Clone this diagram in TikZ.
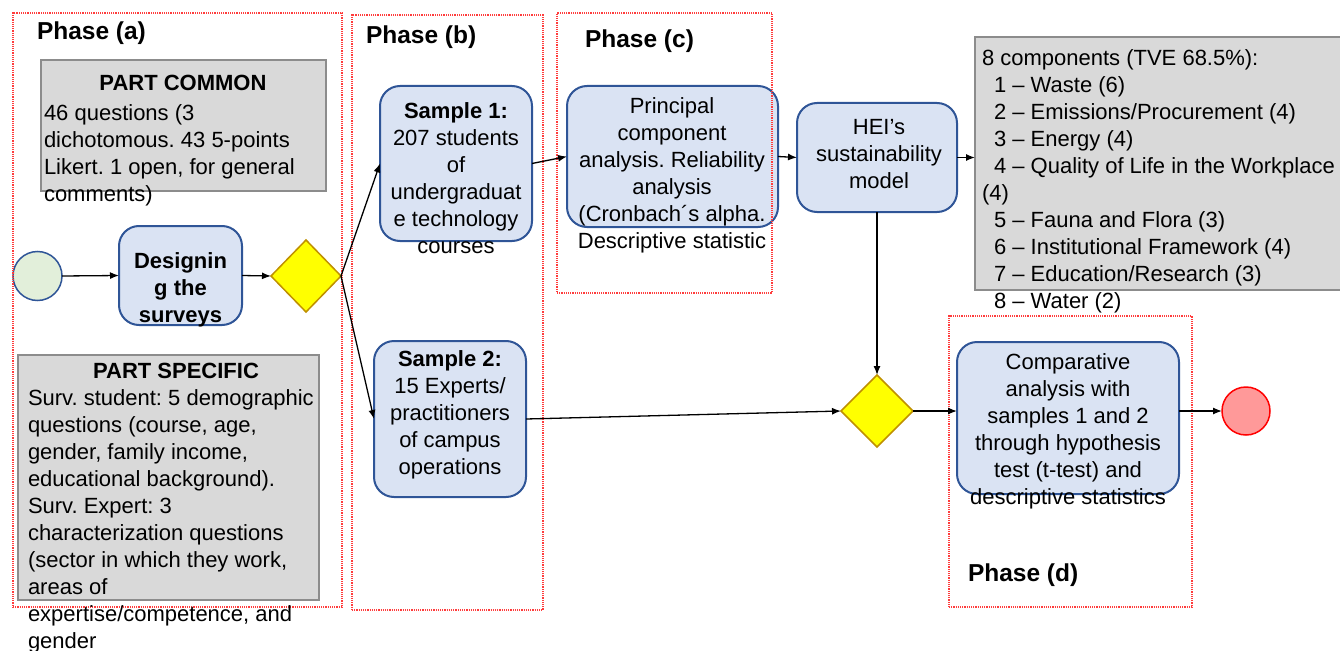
\documentclass[tikz,border=0pt]{standalone}
\usepackage{fontspec}
\setmainfont{Liberation Sans}
\usetikzlibrary{shapes.geometric,arrows.meta}
\definecolor{taskfill}{RGB}{218,227,243}
\definecolor{taskline}{RGB}{47,85,151}
\definecolor{grayfill}{RGB}{217,217,217}
\definecolor{grayline}{RGB}{140,140,140}
\definecolor{gatefill}{RGB}{255,255,0}
\definecolor{gateline}{RGB}{191,144,0}
\definecolor{startfill}{RGB}{226,239,218}
\definecolor{endfill}{RGB}{255,153,153}
\definecolor{phaseline}{RGB}{255,60,60}
\newcommand{\topstr}{\rule{0pt}{16pt}}
\frenchspacing
\begin{document}
\begin{tikzpicture}[x=1pt,y=-1pt,
  every node/.style={inner sep=0pt, outer sep=0pt},
  taskbox/.style={rectangle, draw=taskline, fill=taskfill, line width=2pt, rounded corners=20pt},
  graybox/.style={rectangle, draw=grayline, fill=grayfill, line width=1.5pt},
  gate/.style={diamond, draw=gateline, fill=gatefill, line width=1.5pt},
  phasebox/.style={draw=phaseline, densely dotted, line width=1.2pt},
  txt/.style={font=\fontsize{22}{27}\selectfont, align=center, anchor=north},
  txtb/.style={font=\fontsize{22}{27}\selectfont\bfseries, align=center, anchor=north},
  txtl/.style={font=\fontsize{22}{27}\selectfont, align=left, anchor=north west},
  phaselabel/.style={font=\fontsize{24.5}{29}\selectfont\bfseries, anchor=base west},
  flow/.style={-{Latex[length=9pt,width=7pt]}, line width=1.3pt}
]
\useasboundingbox (0,0) rectangle (1340,650);

% shapes
\node[graybox, minimum width=285, minimum height=131] (common) at (183.5,125.5) {};
\node[graybox, minimum width=301, minimum height=245] (specific) at (168.5,477.5) {};
\node[circle, draw=taskline, fill=startfill, line width=1.5pt, minimum size=49] (start) at (37.5,276) {};
\node[taskbox, minimum width=123, minimum height=99] (design) at (180.5,275.5) {};
\node[gate, minimum width=70, minimum height=72] (g1) at (306,276) {};
\node[taskbox, minimum width=152, minimum height=155] (s1) at (456,163.5) {};
\node[taskbox, minimum width=152, minimum height=156] (s2) at (450,419) {};
\node[taskbox, minimum width=211, minimum height=141] (pca) at (672.5,156.5) {};
\node[taskbox, minimum width=160, minimum height=109] (hei) at (877,157.5) {};
\node[graybox, minimum width=375, minimum height=253] (comps) at (1162.5,163.5) {};
\node[gate, minimum width=72, minimum height=72] (g2) at (877,411) {};
\node[taskbox, minimum width=222, minimum height=152] (cmp) at (1068,418) {};
\node[circle, draw=red, fill=endfill, line width=1.5pt, minimum size=48] (endc) at (1246,411) {};

% phase frames
\node[phasebox, rectangle, minimum width=329, minimum height=594] (pa) at (177.5,310) {};
\node[phasebox, rectangle, minimum width=191, minimum height=595] (pb) at (447.5,312.5) {};
\node[phasebox, rectangle, minimum width=215, minimum height=280] (pc) at (664.5,153) {};
\node[phasebox, rectangle, minimum width=243, minimum height=291] (pd) at (1070.5,461.5) {};

% connectors
\draw[flow] (start.east) -- (design.west);
\draw[flow] (design.east) -- (g1.west);
\draw[flow] (g1.east) -- (s1.west);
\draw[flow] (g1.east) -- (s2.west);
\draw[flow] (s1.east) -- (pca.west);
\draw[flow] (pca.east) -- (hei.west);
\draw[flow] (hei.east) -- (hei.east -| comps.west);
\draw[flow] (hei.south) -- (g2.north);
\draw[flow] (s2.east) -- (g2.west);
\draw[flow] (g2.east) -- (g2.east -| cmp.west);
\draw[flow] (cmp.east |- endc.west) -- (endc.west);

% texts
\node[phaselabel] (la) at (37,40) {Phase (a)};
\node[phaselabel] (lb) at (366,44) {Phase (b)};
\node[phaselabel] (lc) at (585,48) {Phase (c)};
\node[phaselabel] (ld) at (968,581) {Phase (d)};

\node[txtb] (commonT) at (183,75) {\topstr PART COMMON};
\node[txtl] (commonB) at (44,104) {\topstr 46 questions (3\\dichotomous. 43 5-points\\Likert. 1 open, for general\\comments)};
\node[txtb] (designT) at (180.5,252) {\topstr Designin\\g the\\surveys};
\node[txtb] (specificT) at (176,362) {\topstr PART SPECIFIC};
\node[txtl] (specificB) at (28,389) {\topstr Surv. student: 5 demographic\\questions (course, age,\\gender, family income,\\educational background).\\Surv. Expert: 3\\characterization questions\\(sector in which they work,\\areas of\\expertise/competence, and\\gender};
\node[txt] (s1T) at (456,102) {\topstr\textbf{Sample 1:}\\207 students\\of\\undergraduat\\e technology\\courses};
\node[txt] (s2T) at (450,350) {\topstr\textbf{Sample 2:}\\15 Experts/\\practitioners\\of campus\\operations};
\node[txt] (pcaT) at (672,97) {\topstr Principal\\component\\analysis. Reliability\\analysis\\(Cronbach´s alpha.\\Descriptive statistic};
\node[txt] (heiT) at (879,118) {\topstr HEI’s\\sustainability\\model};
\node[txtl] (compsT) at (982,49) {\topstr 8 components (TVE 68.5\%):\\\hspace*{12pt}1 – Waste (6)\\\hspace*{12pt}2 – Emissions/Procurement (4)\\\hspace*{12pt}3 – Energy (4)\\\hspace*{12pt}4 – Quality of Life in the Workplace\\(4)\\\hspace*{12pt}5 – Fauna and Flora (3)\\\hspace*{12pt}6 – Institutional Framework (4)\\\hspace*{12pt}7 – Education/Research (3)\\\hspace*{12pt}8 – Water (2)};
\node[txt] (cmpT) at (1068,353) {\topstr Comparative\\analysis with\\samples 1 and 2\\through hypothesis\\test (t-test) and\\descriptive statistics};
\end{tikzpicture}
\end{document}
